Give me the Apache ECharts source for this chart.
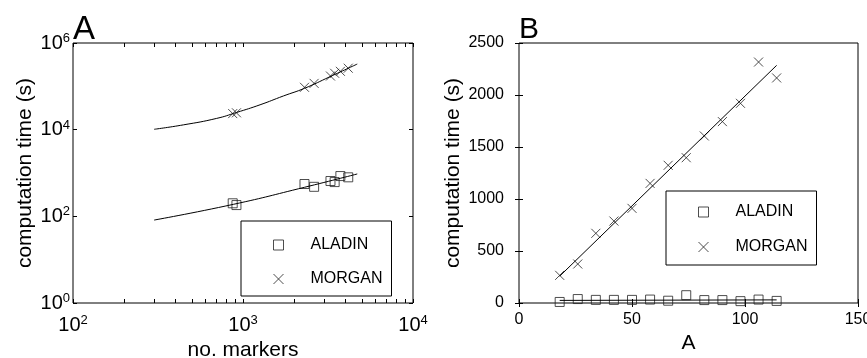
<!DOCTYPE html>
<html>
<head>
<meta charset="utf-8">
<script src="https://cdn.jsdelivr.net/npm/echarts@6/dist/echarts.min.js"></script>
<style>
  html, body {margin: 0; padding: 0; background: #fff;}
  #chart {width: 867px; height: 358px;}
</style>
</head>
<body>
<div id="chart"></div>
<script>
// panel A: computation time vs number of markers (log-log)
const markersA = [870, 915, 2300, 2620, 3270, 3460, 3740, 4160];
const aladinA = [200, 182, 557, 480, 653, 617, 850, 795];
const morganA = [23500, 24500, 95000, 117000, 173000, 200000, 222000, 262000];
// fitted curves
const aladinFitX = [300, 877, 2300, 4700];
const aladinFitY = [82, 189, 468, 950];
const morganFitX = [300, 446, 700, 918, 1260, 1730, 2300, 3250, 4700];
const morganFitY = [10200, 12900, 18200, 25000, 37500, 60000, 90000, 167000, 327000];
const xTicksA = [100, 200, 300, 400, 500, 600, 700, 800, 900, 1000, 2000, 3000, 4000, 5000, 6000, 7000, 8000, 9000, 10000];
const xLabelsA = [100, 1000, 10000];
const yTicksA = [1, 100, 10000, 1000000];

// panel B: computation time vs A
const sizeB = [18, 26, 34, 42, 50, 58, 66, 74, 82, 90, 98, 106, 114];
const aladinB = [10, 38, 30, 30, 30, 33, 22, 75, 28, 28, 18, 33, 20];
const morganB = [266, 375, 670, 788, 910, 1150, 1324, 1397, 1606, 1744, 1920, 2317, 2164];
const aladinFitB = [[18, 25], [114, 30]];
const morganFitB = [[18, 258], [114, 2285]];

const FONT = "'Liberation Sans', Arial, Helvetica, sans-serif";
const crossPath = 'path://M0,0L10,10M0,10L10,0';
const squarePath = 'path://M0,0L10,0L10,10L0,10Z';

const zip = (xs, ys) => xs.map((x, i) => [x, ys[i]]);
const expLabel = v => '{b|10}{s|' + Math.round(Math.log10(v)) + '}';
const richExp = {
  b: {fontSize: 20, fontFamily: FONT, color: '#000'},
  s: {fontSize: 13, fontFamily: FONT, color: '#000', verticalAlign: 'top', padding: [0, 0, 9, 0]}
};
const tick = {show: true, inside: true, length: 4, lineStyle: {color: '#000', width: 1}};
const noLine = {show: false};
const noSplit = {show: false};
const markStyle = {color: 'none', borderColor: '#222', borderWidth: 1};
const nameStyle = {fontSize: 21, fontFamily: FONT, color: '#000'};

const chart = echarts.init(document.getElementById('chart'));
chart.setOption({
  animation: false,
  backgroundColor: '#fff',
  textStyle: {fontFamily: FONT, color: '#000'},
  title: [
    {text: 'A', left: 73, top: 13, padding: 0, textStyle: {fontSize: 33, fontWeight: 'normal', fontFamily: FONT, color: '#000'}},
    {text: 'B', left: 519, top: 15, padding: 0, textStyle: {fontSize: 30, fontWeight: 'normal', fontFamily: FONT, color: '#000'}}
  ],
  grid: [
    {left: 73, top: 43, width: 340, height: 260, show: true, borderColor: '#000', borderWidth: 1, outerBoundsMode: 'none'},
    {left: 519, top: 43, width: 339, height: 260, show: true, borderColor: '#000', borderWidth: 1, outerBoundsMode: 'none'}
  ],
  xAxis: [
    {
      type: 'log', logBase: 10, gridIndex: 0, min: 100, max: 10000, position: 'bottom',
      name: 'no. markers', nameLocation: 'middle', nameGap: 37, nameTextStyle: nameStyle,
      axisLine: noLine, splitLine: noSplit,
      axisTick: Object.assign({customValues: xTicksA}, tick),
      axisLabel: {customValues: xLabelsA, formatter: expLabel, rich: richExp, margin: 11}
    },
    {
      type: 'log', logBase: 10, gridIndex: 0, min: 100, max: 10000, position: 'top',
      axisLine: noLine, splitLine: noSplit, axisLabel: {show: false},
      axisTick: Object.assign({customValues: xTicksA}, tick)
    },
    {
      type: 'value', gridIndex: 1, min: 0, max: 150, interval: 50, position: 'bottom',
      name: 'A', nameLocation: 'middle', nameGap: 30, nameTextStyle: nameStyle,
      axisLine: noLine, splitLine: noSplit, axisTick: tick,
      axisLabel: {fontSize: 16, color: '#000', margin: 9, formatter: v => String(v)}
    },
    {
      type: 'value', gridIndex: 1, min: 0, max: 150, interval: 50, position: 'top',
      axisLine: noLine, splitLine: noSplit, axisTick: tick, axisLabel: {show: false}
    }
  ],
  yAxis: [
    {
      type: 'log', logBase: 10, gridIndex: 0, min: 1, max: 1000000, position: 'left',
      name: 'computation time (s)', nameLocation: 'middle', nameGap: 37, nameRotate: 90, nameTextStyle: nameStyle,
      axisLine: noLine, splitLine: noSplit,
      axisTick: Object.assign({customValues: yTicksA}, tick),
      axisLabel: {customValues: yTicksA, formatter: expLabel, rich: richExp, margin: 3}
    },
    {
      type: 'log', logBase: 10, gridIndex: 0, min: 1, max: 1000000, position: 'right',
      axisLine: noLine, splitLine: noSplit, axisLabel: {show: false},
      axisTick: Object.assign({customValues: yTicksA}, tick)
    },
    {
      type: 'value', gridIndex: 1, min: 0, max: 2500, interval: 500, position: 'left',
      name: 'computation time (s)', nameLocation: 'middle', nameGap: 55, nameRotate: 90, nameTextStyle: nameStyle,
      axisLine: noLine, splitLine: noSplit, axisTick: tick,
      axisLabel: {fontSize: 16, color: '#000', margin: 15, formatter: v => String(v)}
    },
    {
      type: 'value', gridIndex: 1, min: 0, max: 2500, interval: 500, position: 'right',
      axisLine: noLine, splitLine: noSplit, axisTick: tick, axisLabel: {show: false}
    }
  ],
  legend: [
    {
      data: [{name: 'ALADIN', icon: squarePath}, {name: 'MORGAN', icon: crossPath}],
      orient: 'vertical', left: 241, top: 221, symbolKeepAspect: true,
      padding: [15, 9, 8, 30], itemWidth: 54, itemHeight: 10, itemGap: 16,
      borderColor: '#000', borderWidth: 1, selectedMode: false,
      itemStyle: markStyle,
      textStyle: {fontSize: 16, fontFamily: FONT, color: '#000', lineHeight: 18}
    },
    {
      data: [{name: 'ALADIN', icon: squarePath}, {name: 'MORGAN', icon: crossPath}],
      orient: 'vertical', left: 666, top: 191, symbolKeepAspect: true,
      padding: [12, 9, 9, 30], itemWidth: 54, itemHeight: 10, itemGap: 17,
      borderColor: '#000', borderWidth: 1, selectedMode: false,
      itemStyle: markStyle,
      textStyle: {fontSize: 16, fontFamily: FONT, color: '#000', lineHeight: 18}
    }
  ],
  series: [
    {type: 'line', xAxisIndex: 0, yAxisIndex: 0, data: zip(aladinFitX, aladinFitY), smooth: true, showSymbol: false, silent: true,
      lineStyle: {color: '#000', width: 1}},
    {type: 'line', xAxisIndex: 0, yAxisIndex: 0, data: zip(morganFitX, morganFitY), smooth: true, showSymbol: false, silent: true,
      lineStyle: {color: '#000', width: 1}},
    {name: 'ALADIN', type: 'scatter', xAxisIndex: 0, yAxisIndex: 0, data: zip(markersA, aladinA),
      symbol: squarePath, symbolSize: 9, itemStyle: markStyle},
    {name: 'MORGAN', type: 'scatter', xAxisIndex: 0, yAxisIndex: 0, data: zip(markersA, morganA),
      symbol: crossPath, symbolSize: 9, itemStyle: markStyle},
    {type: 'line', xAxisIndex: 2, yAxisIndex: 2, data: aladinFitB, showSymbol: false, silent: true,
      lineStyle: {color: '#000', width: 1}},
    {type: 'line', xAxisIndex: 2, yAxisIndex: 2, data: morganFitB, showSymbol: false, silent: true,
      lineStyle: {color: '#000', width: 1}},
    {name: 'ALADIN', type: 'scatter', xAxisIndex: 2, yAxisIndex: 2, data: zip(sizeB, aladinB),
      symbol: squarePath, symbolSize: 9, itemStyle: markStyle},
    {name: 'MORGAN', type: 'scatter', xAxisIndex: 2, yAxisIndex: 2, data: zip(sizeB, morganB),
      symbol: crossPath, symbolSize: 9, itemStyle: markStyle}
  ]
});
</script>
</body>
</html>
